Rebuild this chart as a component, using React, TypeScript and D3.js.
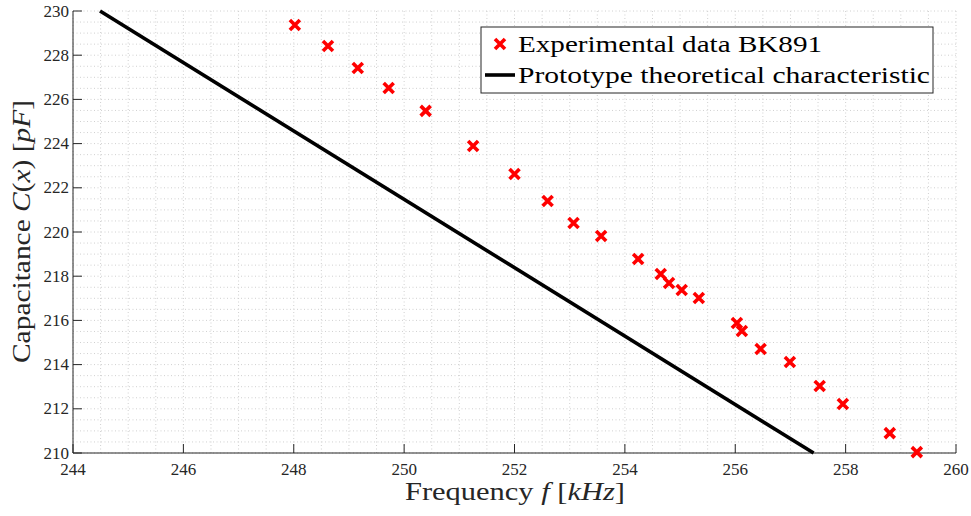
import React from "react";
import * as d3 from "d3";

const freqData = [248.02, 248.62, 249.16, 249.72, 250.39, 251.25, 252.0, 252.6, 253.07, 253.57, 254.24, 254.65, 254.8, 255.03, 255.34, 256.03, 256.12, 256.46, 256.99, 257.53, 257.95, 258.8, 259.29];
const capData = [229.37, 228.42, 227.42, 226.52, 225.48, 223.89, 222.62, 221.4, 220.41, 219.82, 218.78, 218.1, 217.69, 217.38, 217.01, 215.88, 215.52, 214.71, 214.12, 213.03, 212.22, 210.9, 210.04];
const theoryFreq = [244.49, 257.42];
const theoryCap = [230, 210];
const xTicks = [244, 246, 248, 250, 252, 254, 256, 258, 260];
const yTicks = [210, 212, 214, 216, 218, 220, 222, 224, 226, 228, 230];
const legendLabels = ["Experimental data BK891", "Prototype theoretical characteristic"];

export default function App() {
  const W = 971, H = 516;
  const L = 73, R = 956, T = 11, B = 453;
  const x = d3.scaleLinear().domain([244, 260]).range([L, R]);
  const y = d3.scaleLinear().domain([210, 230]).range([B, T]);
  const minorX = d3.range(244, 260.01, 0.5);
  const minorY = d3.range(210, 230.01, 0.5);
  const line = d3.line<number>().x((d, i) => x(theoryFreq[i])).y((d, i) => y(theoryCap[i]));
  const serif = "'Liberation Serif', 'DejaVu Serif', serif";
  const cross = (cx: number, cy: number, s: number, key?: any) => (
    <path key={key} d={`M${cx - s},${cy - s}L${cx + s},${cy + s}M${cx - s},${cy + s}L${cx + s},${cy - s}`} stroke="#ff0000" strokeWidth={3.6} fill="none" />
  );
  return (
    <svg width={W} height={H} style={{ position: "absolute", left: 0, top: 0, background: "#fff" }} fontFamily={serif}>
      <rect width={W} height={H} fill="#fff" />
      <g stroke="#d0d0d0" strokeWidth={1} strokeDasharray="1,2.5">
        {minorX.map((v) => (
          <line key={"gx" + v} x1={x(v)} x2={x(v)} y1={T} y2={B} />
        ))}
        {minorY.map((v) => (
          <line key={"gy" + v} x1={L} x2={R} y1={y(v)} y2={y(v)} />
        ))}
      </g>
      <line x1={L} x2={L} y1={T} y2={B} stroke="#262626" strokeWidth={1} />
      <line x1={L} x2={R} y1={B} y2={B} stroke="#262626" strokeWidth={1} />
      {xTicks.map((v) => (
        <g key={"xt" + v}>
          <line x1={x(v)} x2={x(v)} y1={B} y2={B - 9} stroke="#262626" />
          <text x={x(v)} y={B + 22} textAnchor="middle" fontSize={17} fill="#262626">{v}</text>
        </g>
      ))}
      {yTicks.map((v) => (
        <g key={"yt" + v}>
          <line x1={L} x2={L + 9} y1={y(v)} y2={y(v)} stroke="#262626" />
          <text x={L - 4} y={y(v) + 5.5} textAnchor="end" fontSize={17} fill="#262626">{v}</text>
        </g>
      ))}
      <path d={line(theoryFreq) || ""} stroke="#000" strokeWidth={3.6} fill="none" />
      {freqData.map((f, i) => cross(x(f), y(capData[i]), 5, "p" + i))}
      <text x={405} y={500} fontSize={25} fill="#262626" textLength={220} lengthAdjust="spacingAndGlyphs">
        Frequency <tspan fontStyle="italic">f</tspan> [<tspan fontStyle="italic">kHz</tspan>]
      </text>
      <text transform={`translate(30,363) rotate(-90)`} fontSize={25} fill="#262626" textLength={263} lengthAdjust="spacingAndGlyphs">
        Capacitance <tspan fontStyle="italic">C</tspan>(<tspan fontStyle="italic">x</tspan>) [<tspan fontStyle="italic">pF</tspan>]
      </text>
      <rect x={481} y={27} width={452} height={66} fill="#fff" stroke="#262626" strokeWidth={1} />
      {cross(500, 44, 5)}
      <text x={518} y={52} fontSize={23} fill="#000" textLength={304} lengthAdjust="spacingAndGlyphs">{legendLabels[0]}</text>
      <line x1={485} x2={515} y1={75} y2={75} stroke="#000" strokeWidth={3.6} />
      <text x={518} y={83} fontSize={23} fill="#000" textLength={412} lengthAdjust="spacingAndGlyphs">{legendLabels[1]}</text>
    </svg>
  );
}
